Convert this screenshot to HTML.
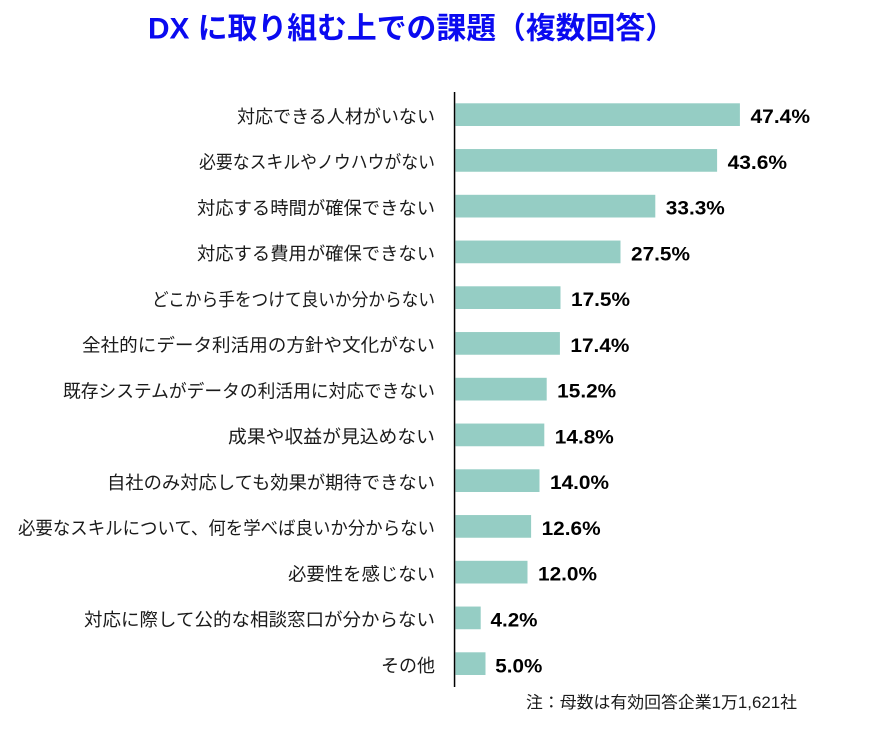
<!DOCTYPE html>
<html><head><meta charset="utf-8"><style>
html,body{margin:0;padding:0;background:#fff;}
svg{display:block;}
.lab{font-family:"Liberation Sans","Noto Sans CJK JP",sans-serif;font-size:18px;fill:#1a1a1a;}
.val{font-family:"Liberation Sans",sans-serif;font-size:19px;font-weight:bold;fill:#000;}
</style></head><body>
<svg width="885" height="737" viewBox="0 0 885 737" xmlns="http://www.w3.org/2000/svg">
<rect width="885" height="737" fill="#fff"/>
<text x="148" y="38.5" textLength="527" lengthAdjust="spacingAndGlyphs" style="font-family:'Liberation Sans','Noto Sans CJK JP',sans-serif;font-size:30px;font-weight:bold;fill:#0a0af0;">DX に取り組む上での課題（複数回答）</text>
<g fill="#95cdc4">
<rect x="455.5" y="103.3" width="284.4" height="22.7"/>
<rect x="455.5" y="149.05" width="261.6" height="22.7"/>
<rect x="455.5" y="194.8" width="199.8" height="22.7"/>
<rect x="455.5" y="240.55" width="165" height="22.7"/>
<rect x="455.5" y="286.3" width="105" height="22.7"/>
<rect x="455.5" y="332.05" width="104.4" height="22.7"/>
<rect x="455.5" y="377.8" width="91.2" height="22.7"/>
<rect x="455.5" y="423.55" width="88.8" height="22.7"/>
<rect x="455.5" y="469.3" width="84" height="22.7"/>
<rect x="455.5" y="515.05" width="75.6" height="22.7"/>
<rect x="455.5" y="560.8" width="72" height="22.7"/>
<rect x="455.5" y="606.55" width="25.2" height="22.7"/>
<rect x="455.5" y="652.3" width="30" height="22.7"/>
</g>
<rect x="453.8" y="92" width="1.5" height="595" fill="#000"/>
<g class="lab" text-anchor="end">
<text x="435" y="122.9" textLength="198" lengthAdjust="spacingAndGlyphs">対応できる人材がいない</text>
<text x="435" y="168.65" textLength="236" lengthAdjust="spacingAndGlyphs">必要なスキルやノウハウがない</text>
<text x="435" y="214.4" textLength="238" lengthAdjust="spacingAndGlyphs">対応する時間が確保できない</text>
<text x="435" y="260.15" textLength="238" lengthAdjust="spacingAndGlyphs">対応する費用が確保できない</text>
<text x="435" y="305.9" textLength="283" lengthAdjust="spacingAndGlyphs">どこから手をつけて良いか分からない</text>
<text x="435" y="351.65" textLength="353" lengthAdjust="spacingAndGlyphs">全社的にデータ利活用の方針や文化がない</text>
<text x="435" y="397.4" textLength="372" lengthAdjust="spacingAndGlyphs">既存システムがデータの利活用に対応できない</text>
<text x="435" y="443.15" textLength="207" lengthAdjust="spacingAndGlyphs">成果や収益が見込めない</text>
<text x="435" y="488.9" textLength="328" lengthAdjust="spacingAndGlyphs">自社のみ対応しても効果が期待できない</text>
<text x="435" y="534.65" textLength="417" lengthAdjust="spacingAndGlyphs">必要なスキルについて、何を学べば良いか分からない</text>
<text x="435" y="580.4" textLength="147" lengthAdjust="spacingAndGlyphs">必要性を感じない</text>
<text x="435" y="626.15" textLength="351" lengthAdjust="spacingAndGlyphs">対応に際して公的な相談窓口が分からない</text>
<text x="435" y="671.9" textLength="54" lengthAdjust="spacingAndGlyphs">その他</text>
</g>
<g class="val">
<text x="750.5" y="123.1" textLength="59.5" lengthAdjust="spacingAndGlyphs">47.4%</text>
<text x="727.6" y="168.85" textLength="59.5" lengthAdjust="spacingAndGlyphs">43.6%</text>
<text x="665.8" y="214.6" textLength="59" lengthAdjust="spacingAndGlyphs">33.3%</text>
<text x="631" y="260.35" textLength="59" lengthAdjust="spacingAndGlyphs">27.5%</text>
<text x="571" y="306.1" textLength="59" lengthAdjust="spacingAndGlyphs">17.5%</text>
<text x="570.4" y="351.85" textLength="59" lengthAdjust="spacingAndGlyphs">17.4%</text>
<text x="557.2" y="397.6" textLength="59" lengthAdjust="spacingAndGlyphs">15.2%</text>
<text x="554.8" y="443.35" textLength="59" lengthAdjust="spacingAndGlyphs">14.8%</text>
<text x="550" y="489.1" textLength="59" lengthAdjust="spacingAndGlyphs">14.0%</text>
<text x="541.6" y="534.85" textLength="59" lengthAdjust="spacingAndGlyphs">12.6%</text>
<text x="538" y="580.6" textLength="59" lengthAdjust="spacingAndGlyphs">12.0%</text>
<text x="490.5" y="626.6" textLength="47" lengthAdjust="spacingAndGlyphs">4.2%</text>
<text x="495.3" y="672.3" textLength="47" lengthAdjust="spacingAndGlyphs">5.0%</text>
</g>
<text x="526" y="708" textLength="271" lengthAdjust="spacingAndGlyphs" style="font-family:'Liberation Sans','Noto Sans CJK JP',sans-serif;font-size:16.5px;fill:#1a1a1a;">注：母数は有効回答企業1万1,621社</text>
</svg>
</body></html>
